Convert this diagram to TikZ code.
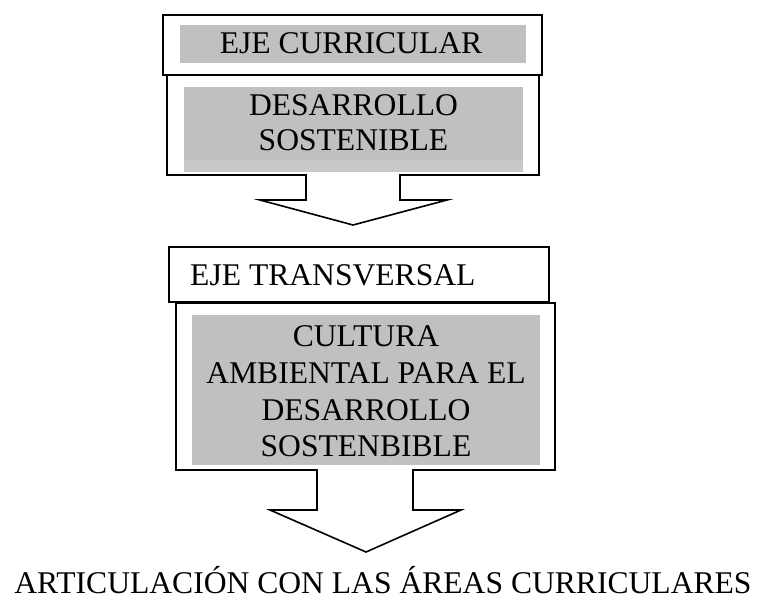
\documentclass[tikz,border=0pt]{standalone}
\usepackage{fontspec}
\setmainfont{Liberation Serif}
\usetikzlibrary{calc}
\definecolor{boxgray}{RGB}{192,192,192}
\definecolor{bandgray}{RGB}{200,200,200}
\begin{document}
\begin{tikzpicture}[x=1pt,y=-1pt,
  outerbox/.style={draw=black,line width=1.6pt,fill=white,rectangle,inner sep=0pt,outer sep=0pt},
  graybox/.style={fill=boxgray,rectangle,inner sep=0pt,outer sep=0pt},
  txt/.style={anchor=base,inner sep=0pt,font=\fontsize{31.6}{36}\selectfont},
  arrowline/.style={draw=black,line width=1.6pt,line join=miter}]
\useasboundingbox (0,0) rectangle (758,600);
% boxes
\node[outerbox,minimum width=379pt,minimum height=60pt] (b1) at (352.5,45) {};
\node[outerbox,minimum width=372pt,minimum height=100pt] (b2) at (353,125) {};
\node[graybox,minimum width=346pt,minimum height=38pt] (g1) at (353,44) {};
\node[graybox,minimum width=339pt,minimum height=85pt] (g2) at (353.5,129.5) {};
\fill[bandgray] ($(g2.south west)+(0,-12)$) rectangle (g2.south east);
\node[outerbox,minimum width=380pt,minimum height=55pt] (b3) at (359,274.5) {};
\node[outerbox,minimum width=379pt,minimum height=167pt] (b4) at (365.5,386.5) {};
\node[graybox,minimum width=348pt,minimum height=150pt] (g4) at (366,390) {};
% texts
\node[txt] (t1) at (351,53.5) {EJE CURRICULAR};
\node[txt] (t2a) at (353.5,115.5) {DESARROLLO};
\node[txt] (t2b) at (353.5,150.5) {SOSTENIBLE};
\node[txt,anchor=base west] (t3) at (190,285) {EJE TRANSVERSAL};
\node[txt] (t4a) at (366,346) {CULTURA};
\node[txt] (t4b) at (366,383) {AMBIENTAL PARA EL};
\node[txt] (t4c) at (366,420) {DESARROLLO};
\node[txt] (t4d) at (366,456) {SOSTENBIBLE};
\node[txt] (t5) at (383,593) {ARTICULACIÓN CON LAS ÁREAS CURRICULARES};
% arrow 1
\coordinate (a1l) at ($(b2.south)+(-47,0)$);
\coordinate (a1r) at ($(b2.south)+(47,0)$);
\coordinate (a1tip) at ($(b2.south)+(0,50)$);
\fill[white] ($(a1l)+(0.8,-1.2)$) rectangle ($(a1r)+(-0.8,25)$);
\draw[arrowline] (a1l) -- ++(0,25) -- ++(-46,0) -- (a1tip) -- ($(a1r)+(47,25)$) -- ++(-47,0) -- (a1r);
% arrow 2
\coordinate (a2l) at ($(b4.south)+(-48.5,0)$);
\coordinate (a2r) at ($(b4.south)+(47.5,0)$);
\coordinate (a2tip) at ($(b4.south)+(0.5,82)$);
\fill[white] ($(a2l)+(0.8,-1.2)$) rectangle ($(a2r)+(-0.8,40)$);
\draw[arrowline] (a2l) -- ++(0,40) -- ++(-47,0) -- (a2tip) -- ($(a2r)+(48,40)$) -- ++(-48,0) -- (a2r);
\end{tikzpicture}
\end{document}
